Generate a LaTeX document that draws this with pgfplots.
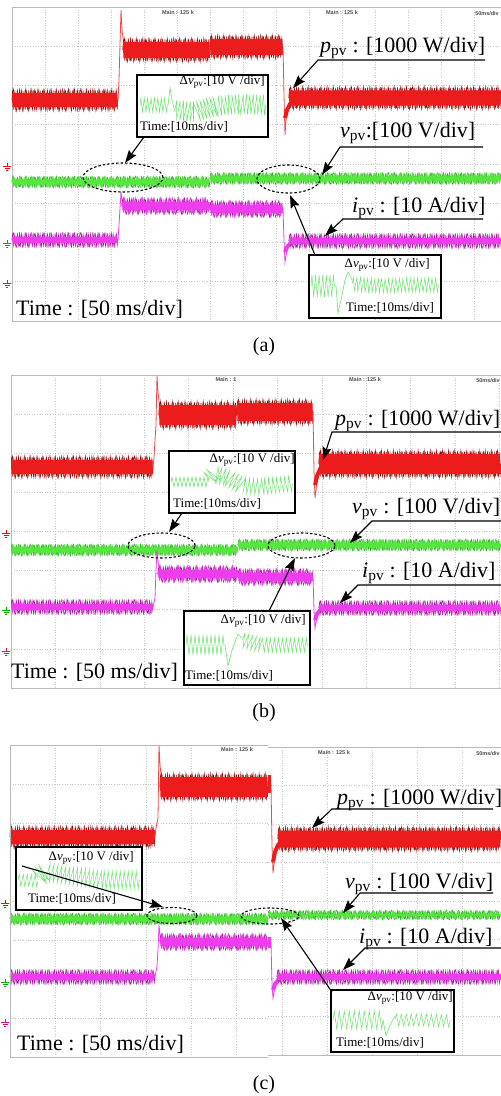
\documentclass[border=0pt]{standalone}
\usepackage{fontspec}
\setmainfont{Liberation Serif}
\setsansfont{Liberation Sans}
\usepackage{pgfplots}
\pgfplotsset{compat=1.18}
\usetikzlibrary{arrows.meta,decorations.pathmorphing}
\definecolor{redA}{RGB}{236,28,28}
\definecolor{redD}{RGB}{150,12,12}
\definecolor{magA}{RGB}{238,60,238}
\definecolor{magD}{RGB}{170,20,165}
\definecolor{grnA}{RGB}{85,232,60}
\definecolor{grnD}{RGB}{40,165,30}
\definecolor{grnI}{RGB}{110,228,110}
\tikzset{
 zz/.style 2 args={decorate,decoration={zigzag,amplitude=#1,segment length=#2}},
 ann/.style={line width=1.1pt,-{Stealth[length=13pt,width=9pt,inset=2pt]}},
 ell/.style={line width=1.1pt,dash pattern=on 2.5pt off 2pt},
 LBL/.style={font=\fontsize{22}{24}\selectfont, inner sep=0pt},
 INS/.style={font=\fontsize{13}{15}\selectfont, inner sep=0pt},
 CAP/.style={font=\fontsize{20}{22}\selectfont, inner sep=0pt},
 HDR/.style={font=\fontsize{5.5}{6}\selectfont\sffamily\bfseries, text=black!70, inner sep=0pt},
 frm/.style={gray!55, line width=0.8pt},
}
\pgfplotsset{
 osc/.style={scale only axis, anchor=north west, y dir=reverse, grid=major,
   major grid style={gray!45, line width=0.6pt, dash pattern=on 0.8pt off 1.8pt},
   xticklabels={}, yticklabels={}, major tick length=0pt,
   axis line style={gray!55, line width=0.8pt}},
 inset/.style={scale only axis, anchor=north west, y dir=reverse, ticks=none,
   axis line style={black, line width=1.4pt}, axis background/.style={fill=white}},
}
\newcommand\trace[4]{%
 \addplot[#1, line width=0.3pt, zz={#3pt+2.5pt}{6.1pt}] coordinates {#4};
 \addplot[#1, line width=0.3pt, zz={#3pt+1.5pt}{4.3pt}] coordinates {#4};
 \addplot[#1, line width=0.5pt, zz={#3pt+0.5pt}{2.3pt}] coordinates {#4};
 \addplot[#2, line width=0.8pt, zz={#3pt-2pt}{1.1pt}] coordinates {#4};
}
\newcommand\rip[4]{\addplot[#1, line width=1.1pt, zz={#2pt}{#3pt}] coordinates {#4};}
\newcommand\stp[2]{\addplot[#1, line width=0.8pt] coordinates {#2};}
\newcommand\rec[2]{\addplot[#1, line width=4pt] coordinates {#2};}
\newcommand\wave[3]{\addplot[grnI, line width=0.5pt, zz={#1pt}{#2pt}] coordinates {#3};}
\newcommand\gnd[3]{\draw[#1, line width=0.6pt] (#2-4,#3) -- (#2+4,#3) (#2-2.5,#3+2) -- (#2+2.5,#3+2) (#2-1,#3+4) -- (#2+1,#3+4) (#2,#3-3) -- (#2,#3);}
\newcommand\pv{\textsubscript{pv}}
\newcommand\dv{Δ\textit{v}\pv:[10 V /div]}
\newcommand\tten{Time:[10ms/div]}
\begin{document}
\begin{tikzpicture}
\useasboundingbox (0pt,0pt) rectangle (501pt,-1096pt);
\fill[white] (0pt,0pt) rectangle (501pt,-1096pt);

% ---------------- panel (a)
\begin{axis}[osc, at={(12pt,-7pt)}, width=489pt, height=314pt,
  xmin=12, xmax=501, ymin=7, ymax=321,
  xtick={12,45,...,480}, ytick={7,46.25,...,321}]
\trace{redD}{redA}{9}{(12,100) (118,100)}
\stp{redA!80}{(118,100) (119,80) (120,45) (121,10) (122,30) (124,46) (127,50)}
\trace{redD}{redA}{10}{(123,50) (210,50)}
\trace{redD}{redA}{10}{(210,47) (283,47)}
\stp{redA!80}{(283,47) (284,95) (285,135) (286,120) (288,108) (292,101) (298,99)}
\rec{redA}{(285,118) (287,110) (290,104) (294,100)}
\trace{redD}{redA}{9.5}{(289,98) (501,98)}
\trace{grnD}{grnA}{3.5}{(12,182) (210,182)}
\rip{grnA}{4.5}{6.5}{(12,182) (210,182)}
\trace{grnD}{grnA}{3.5}{(210,178.5) (501,178.5)}
\rip{grnA}{4.5}{6.5}{(210,178.5) (501,178.5)}
\trace{magD}{magA}{5}{(12,240) (118,240)}
\stp{magA}{(118,240) (119,225) (121,192) (122,200) (124,206)}
\trace{magD}{magA}{6}{(122,206) (210,206)}
\rip{magA}{7.5}{9}{(122,206) (210,206)}
\trace{magD}{magA}{6}{(210,209) (283,209)}
\rip{magA}{7.5}{9}{(210,209) (283,209)}
\stp{magA}{(283,209) (284,240) (285,262) (287,250) (291,243)}
\rec{magA}{(285,252) (287,247) (291,243)}
\trace{magD}{magA}{5}{(289,241) (501,241)}
\end{axis}

% ---------------- panel (b)
\begin{axis}[osc, at={(11pt,-375pt)}, width=490pt, height=313pt,
  xmin=11, xmax=501, ymin=375, ymax=688,
  xtick={11,55.4,...,500}, ytick={375,414.125,...,688}]
\trace{redD}{redA}{9}{(11,467) (153,467)}
\stp{redA!80}{(153,467) (154,458) (155,440) (156,425) (157,376) (158,392) (160,410) (164,415)}
\trace{redD}{redA}{12}{(159,415) (237,415)}
\trace{redD}{redA}{11}{(237,412) (313,412)}
\stp{redA!80}{(313,412) (314,470) (315,498) (317,482) (320,470) (326,465)}
\rec{redA}{(315,485) (317,476) (320,469) (324,465)}
\trace{redD}{redA}{12}{(319,464) (501,464)}
\trace{grnD}{grnA}{3.5}{(11,550) (238,550)}
\rip{grnA}{4.5}{6.5}{(11,550) (238,550)}
\trace{grnD}{grnA}{3.5}{(238,545) (501,545)}
\rip{grnA}{4.5}{6.5}{(238,545) (501,545)}
\trace{magD}{magA}{5}{(11,607) (153,607)}
\stp{magA}{(153,607) (155,598) (156,570) (157,550) (158,562) (160,572) (163,574)}
\trace{magD}{magA}{6}{(158,574) (238,574)}
\rip{magA}{7.5}{9}{(158,574) (238,574)}
\trace{magD}{magA}{6}{(238,577) (313,577)}
\rip{magA}{7.5}{9}{(238,577) (313,577)}
\stp{magA}{(313,577) (314,610) (315,628) (317,617) (321,610)}
\rec{magA}{(315,620) (317,614) (321,609)}
\trace{magD}{magA}{5}{(319,608) (501,608)}
\end{axis}

% ---------------- panel (c) left
\begin{axis}[osc, at={(10pt,-745pt)}, width=258pt, height=312pt,
  xmin=10, xmax=268, ymin=745, ymax=1057, axis line style={draw=none},
  xtick={10,55.3,...,268}, ytick={745,784,...,1057}]
\trace{redD}{redA}{9}{(10,837) (155,837)}
\stp{redA!80}{(155,837) (156,828) (158,818) (159,745) (160,765) (162,783) (165,787)}
\trace{redD}{redA}{12}{(160,787) (268,787)}
\trace{grnD}{grnA}{3.5}{(10,919) (268,919)}
\rip{grnA}{4.5}{6.5}{(10,919) (268,919)}
\trace{magD}{magA}{5}{(10,977) (155,977)}
\stp{magA}{(155,977) (157,966) (158,950) (159,925) (160,935) (162,942)}
\trace{magD}{magA}{6}{(160,942) (268,942)}
\rip{magA}{7.5}{9}{(160,942) (268,942)}
\end{axis}

% ---------------- panel (c) right
\begin{axis}[osc, at={(268pt,-747pt)}, width=233pt, height=308pt,
  xmin=268, xmax=501, ymin=747, ymax=1055, axis line style={draw=none},
  xtick={282,327,...,500}, ytick={747,785.5,...,1055}]
\addplot[redA, line width=18pt] coordinates {(268,784) (271,784)};
\stp{redA!80}{(271,784) (272,845) (273,873) (275,856) (278,845) (284,840)}
\rec{redA}{(273,862) (275,852) (278,845) (282,841)}
\trace{redD}{redA}{10.5}{(278,839) (501,839)}
\trace{grnD}{grnA}{2.5}{(268,915) (501,915)}
\rip{grnA}{3.5}{6.5}{(268,915) (501,915)}
\addplot[magA, line width=11pt] coordinates {(268,942) (271,942)};
\stp{magA}{(271,942) (272,985) (273,998) (275,987) (279,979)}
\rec{magA}{(273,990) (275,984) (279,979)}
\trace{magD}{magA}{5}{(277,977) (501,977)}
\end{axis}

% ---------------- insets
\begin{axis}[inset, at={(137pt,-75pt)}, width=131pt, height=62pt, xmin=137, xmax=268, ymin=75, ymax=137]
\wave{7}{3.4}{(140,105) (168,105)}
\addplot[grnI, line width=.6pt] coordinates {(168,105) (170,88) (172,100) (175,112)};
\wave{10}{3.4}{(175,110) (195,112) (215,106) (240,104) (266,105)}
\end{axis}
\begin{axis}[inset, at={(309pt,-255pt)}, width=132pt, height=63pt, xmin=309, xmax=441, ymin=255, ymax=318]
\wave{11}{3.6}{(311,286) (336,286)}
\addplot[grnI, line width=.6pt] coordinates {(336,286) (338,313) (341,300) (345,280) (348,272) (352,280)};
\wave{7}{3.6}{(352,284) (380,286) (410,285) (439,285)}
\end{axis}
\begin{axis}[inset, at={(169pt,-451pt)}, width=126pt, height=62pt, xmin=169, xmax=295, ymin=451, ymax=513]
\wave{5}{4}{(171,482) (209,482)}
\wave{8}{4}{(209,479) (214,474) (228,478) (242,486) (262,487) (293,484)}
\end{axis}
\begin{axis}[inset, at={(184pt,-611pt)}, width=126pt, height=74pt, xmin=184, xmax=310, ymin=611, ymax=685]
\wave{10}{4}{(186,645) (225,645)}
\addplot[grnI, line width=.6pt] coordinates {(225,645) (228,666) (232,650) (238,634) (242,638)};
\wave{7}{4}{(242,640) (260,645) (280,645) (309,645)}
\end{axis}
\begin{axis}[inset, at={(16pt,-847pt)}, width=126pt, height=63pt, xmin=16, xmax=142, ymin=847, ymax=910]
\wave{6}{4}{(18,880) (38,881)}
\wave{9}{4}{(38,878) (45,872) (70,876) (100,880) (140,880)}
\end{axis}
\begin{axis}[inset, at={(331pt,-990pt)}, width=123pt, height=62pt, xmin=331, xmax=454, ymin=990, ymax=1052]
\wave{9}{5}{(333,1020) (383,1020)}
\addplot[grnI, line width=.6pt] coordinates {(383,1020) (386,1036) (390,1025) (395,1016)};
\wave{6}{5}{(395,1020) (420,1020) (452,1021)}
\end{axis}

\begin{scope}[x=1pt,y=-1pt]
% frame of panel (c), two joined screens
\draw[frm] (268,745) -- (10,745) -- (10,1057) -- (268,1057);
\draw[frm] (268,747) -- (501,747);
\draw[frm] (268,1055) -- (501,1055);
\draw[frm] (501,747) -- (501,1055);
% headers
\node[HDR] at (178,13) {Main : 125 k};
\node[HDR] at (342,13) {Main : 125 k};
\node[HDR,anchor=east] at (499,14) {50ms/div};
\node[HDR] at (226,380) {Main : 1};
\node[HDR] at (365,380) {Main : 125 k};
\node[HDR,anchor=east] at (500,381) {50ms/div};
\node[HDR] at (237,750) {Main : 125 k};
\node[HDR] at (334,753) {Main : 125 k};
\node[HDR,anchor=east] at (500,754) {50ms/div};
% ground markers
\gnd{red}{7}{166}\gnd{green!70!black}{7}{243}\gnd{magenta}{7}{283}
\gnd{red}{6}{533}\gnd{green!70!black}{6}{610}\gnd{magenta}{6}{651}
\gnd{red}{5}{903}\gnd{green!70!black}{5}{982}\gnd{magenta}{5}{1022}

% ---- (a)
\draw[ell] (123,177.5) ellipse [x radius=40pt, y radius=14.5pt];
\draw[ell] (288.5,179) ellipse [x radius=31.5pt, y radius=14pt];
\draw[ann] (485,60) -- (318,60) -- (293,88);
\draw[ann] (483,147) -- (340,147) -- (322,175);
\draw[ann] (483,219) -- (343,219) -- (325,236);
\draw[ann] (144,137) -- (125,163);
\draw[ann] (315,255) -- (290,195);
\node[LBL,anchor=base west] at (320,52) {\textit{p}\pv{} : [1000 W/div]};
\node[LBL,anchor=base west] at (340,137) {\textit{v}\pv:[100 V/div]};
\node[LBL,anchor=base west] at (352,212) {\textit{i}\pv{} : [10 A/div]};
\node[LBL,anchor=base west] at (16,315) {Time : [50 ms/div]};
\node[INS,anchor=east] at (265,82) {\dv};
\node[INS,anchor=west] at (140,127) {\tten};
\node[INS,anchor=east] at (430,265) {\dv};
\node[INS,anchor=west] at (346,308) {\tten};
\node[CAP] at (264,347) {(a)};

% ---- (b)
\draw[ell] (161.5,545.5) ellipse [x radius=33.5pt, y radius=12.5pt];
\draw[ell] (301.5,545.5) ellipse [x radius=33.5pt, y radius=12.5pt];
\draw[ann] (501,432) -- (332,432) -- (323,460);
\draw[ann] (501,521) -- (372,521) -- (350,543);
\draw[ann] (501,585) -- (358,585) -- (340,603);
\draw[ann] (182,513) -- (169,532);
\draw[ann] (269,611) -- (295,558);
\node[LBL,anchor=base west] at (335,425) {\textit{p}\pv{} : [1000 W/div]};
\node[LBL,anchor=base west] at (352,513) {\textit{v}\pv{} : [100 V/div]};
\node[LBL,anchor=base west] at (362,577) {\textit{i}\pv{} : [10 A/div]};
\node[LBL,anchor=base west] at (11,678) {Time : [50 ms/div]};
\node[INS,anchor=east] at (295,460) {\dv};
\node[INS,anchor=west] at (173,504) {\tten};
\node[INS,anchor=east] at (306,621) {\dv};
\node[INS,anchor=west] at (185,676) {\tten};
\node[CAP] at (264,713) {(b)};

% ---- (c)
\draw[ell] (172,915.5) ellipse [x radius=25pt, y radius=8pt];
\draw[ell] (270,916) ellipse [x radius=29pt, y radius=8pt];
\draw[ann] (493,809) -- (332,809) -- (312,828);
\draw[ann] (493,893) -- (360,893) -- (343,913);
\draw[ann] (501,948) -- (365,948) -- (343,970);
\node[INS,anchor=east] at (134,858) {\dv};
\node[INS,anchor=west] at (28,899) {\tten};
\node[INS,anchor=east] at (453,998) {\dv};
\node[INS,anchor=west] at (336,1043) {\tten};
\draw[ann] (22,866) -- (163,907);
\draw[ann] (332,992) -- (281,918);
\node[LBL,anchor=base west] at (337,804) {\textit{p}\pv{} : [1000 W/div]};
\node[LBL,anchor=base west] at (345,888) {\textit{v}\pv{} : [100 V/div]};
\node[LBL,anchor=base west] at (359,943) {\textit{i}\pv{} : [10 A/div]};
\node[LBL,anchor=base west] at (17,1050) {Time : [50 ms/div]};
\node[CAP] at (264,1085) {(c)};
\end{scope}
\end{tikzpicture}
\end{document}
